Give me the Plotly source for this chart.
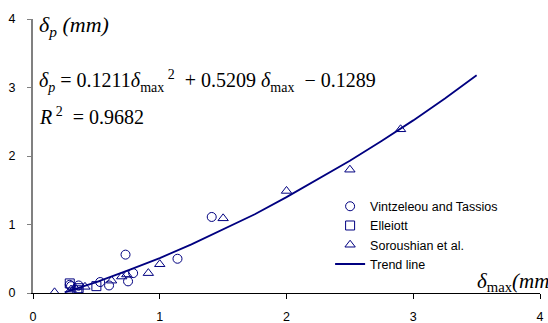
import plotly.graph_objects as go

# Data
vt_x = [0.29, 0.30, 0.36, 0.53, 0.60, 0.73, 0.75, 0.79, 1.14, 1.41]
vt_y = [0.12, 0.10, 0.11, 0.16, 0.11, 0.56, 0.17, 0.29, 0.50, 1.11]

el_x = [0.29, 0.35, 0.36, 0.50]
el_y = [0.14, 0.04, 0.07, 0.10]

so_x = [0.17, 0.30, 0.33, 0.41, 0.62, 0.70, 0.74, 0.91, 1.00, 1.50, 2.00, 2.50, 2.90]
so_y = [0.01, 0.05, 0.08, 0.09, 0.18, 0.24, 0.27, 0.29, 0.42, 1.09, 1.49, 1.80, 2.39]

trend_x = [0.25, 0.5, 0.75, 1.0, 1.25, 1.5, 1.75, 2.0, 2.25, 2.5, 2.75, 3.0, 3.25, 3.5]
trend_y = [0.01, 0.16, 0.33, 0.51, 0.71, 0.93, 1.15, 1.40, 1.66, 1.93, 2.22, 2.52, 2.84, 3.18]

tick_vals = [0, 1, 2, 3, 4]
tick_text = ["0", "1", "2", "3", "4"]

NAVY = "#000080"

fig = go.Figure()
fig.add_trace(go.Scatter(x=vt_x, y=vt_y, mode="markers", name="Vintzeleou and Tassios",
                         marker=dict(symbol="circle-open", size=9, color=NAVY, line=dict(width=1, color=NAVY))))
fig.add_trace(go.Scatter(x=el_x, y=el_y, mode="markers", name="Elleiott",
                         marker=dict(symbol="square-open", size=9, color=NAVY, line=dict(width=1, color=NAVY))))
fig.add_trace(go.Scatter(x=so_x, y=so_y, mode="markers", name="Soroushian et al.",
                         marker=dict(symbol="triangle-up-open", size=9, color=NAVY, line=dict(width=1, color=NAVY))))
fig.add_trace(go.Scatter(x=trend_x, y=trend_y, mode="lines", name="Trend line",
                         line=dict(color=NAVY, width=1.8)))

serif = "Liberation Serif, Times New Roman, serif"

fig.update_layout(
    width=548, height=323,
    margin=dict(l=33, r=8, t=19, b=30),
    plot_bgcolor="white", paper_bgcolor="white",
    font=dict(family="Liberation Sans, Arial, sans-serif", size=12, color="black"),
    showlegend=True,
    legend=dict(x=0.586, y=0.37, xanchor="left", yanchor="top",
                bgcolor="rgba(0,0,0,0)", font=dict(size=12.5, color="black"),
                tracegroupgap=0),
    xaxis=dict(range=[0, 4], tickvals=tick_vals, ticktext=tick_text, automargin=False,
               showgrid=False, zeroline=False, showline=True, linecolor="black", linewidth=1,
               ticks="outside", ticklen=5, tickcolor="black", ticklabelstandoff=7,
               tickfont=dict(size=12.5)),
    yaxis=dict(range=[0, 4], tickvals=tick_vals, ticktext=tick_text, automargin=False,
               showgrid=False, zeroline=False, showline=True, linecolor="#808080", linewidth=2,
               ticks="outside", ticklen=4, tickcolor="#808080", ticklabelstandoff=9,
               tickfont=dict(size=12.5)),
    annotations=[
        dict(text="<i>δ</i><sub><i>p</i></sub> <i>(mm)</i>", xref="paper", yref="paper",
             x=0.008, y=0.973, xanchor="left", yanchor="middle", showarrow=False,
             font=dict(family=serif, size=22, color="black")),
        dict(text="<i>δ</i><sub><i>p</i></sub> = 0.1211<i>δ</i><sub>max</sub><sup> 2</sup>  + 0.5209 <i>δ</i><sub>max</sub>  − 0.1289",
             xref="paper", yref="paper",
             x=0.008, y=0.774, xanchor="left", yanchor="middle", showarrow=False,
             font=dict(family=serif, size=20, color="black")),
        dict(text="<i>R</i><sup> 2</sup>  = 0.9682", xref="paper", yref="paper",
             x=0.008, y=0.646, xanchor="left", yanchor="middle", showarrow=False,
             font=dict(family=serif, size=20, color="black")),
        dict(text="<i>δ</i><sub>max</sub><i>(mm)</i>", xref="paper", yref="paper",
             x=0.872, y=0.04, xanchor="left", yanchor="middle", showarrow=False,
             font=dict(family=serif, size=21, color="black")),
    ],
)

# Remove the browser's default 8px page margin so the figure fills the window exactly.
fig.write_html("out.html", config={"displayModeBar": False},
               post_script="document.body.style.margin='0';document.body.style.overflow='hidden';")
